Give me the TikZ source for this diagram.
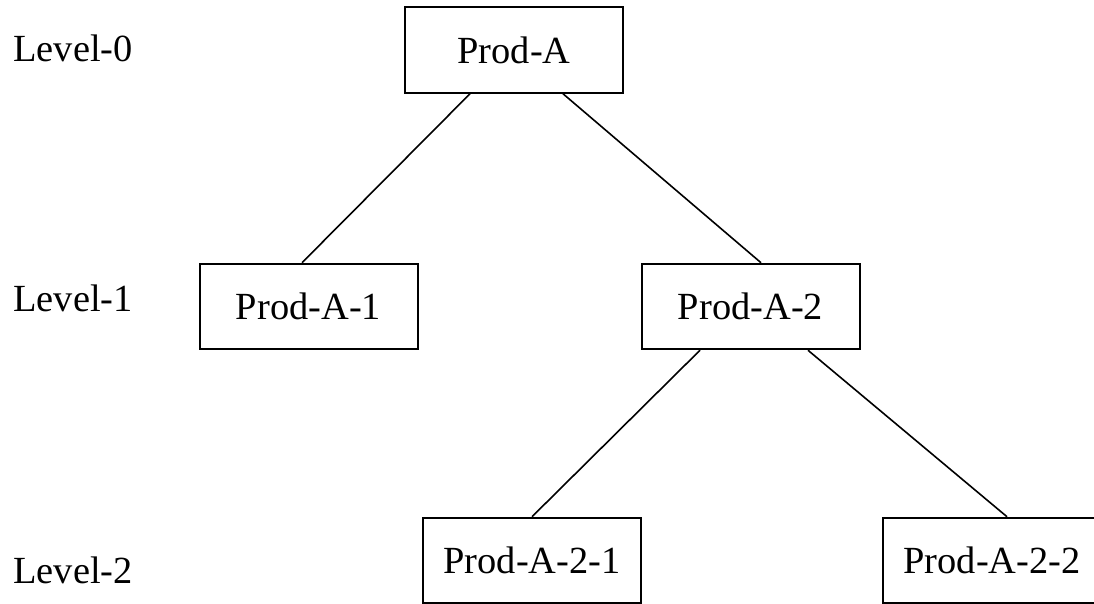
\documentclass[tikz,border=0pt]{standalone}
\usepackage{fontspec}
\setmainfont{Liberation Serif}
\begin{document}
\begin{tikzpicture}[x=0.5pt,y=-0.5pt,
  txt/.style={font=\fontsize{19.2}{23}\selectfont},
  box/.style={txt, draw, line width=1pt, inner sep=0pt, minimum width=109pt, minimum height=42.75pt},
  lvl/.style={txt, inner sep=0pt, anchor=base west},
  link/.style={line width=0.8pt}]
\useasboundingbox (0,0) rectangle (1094,604);
\node[box] (A) at (514,50) {Prod-A};
\node[box] (A1) at (308.5,306.5) {Prod-A-1};
\node[box] (A2) at (750.5,306.5) {Prod-A-2};
\node[box] (A21) at (532,560.5) {Prod-A-2-1};
\node[box] (A22) at (992,560.5) {Prod-A-2-2};
\node[lvl] (L0) at (13,62) {Level-0};
\node[lvl] (L1) at (13,312) {Level-1};
\node[lvl] (L2) at (13,583) {Level-2};
\draw[link] ([xshift=-22pt]A.south) -- ([xshift=-3.25pt]A1.north);
\draw[link] ([xshift=24.5pt]A.south) -- ([xshift=5.25pt]A2.north);
\draw[link] ([xshift=-25.25pt]A2.south) -- (A21.north);
\draw[link] ([xshift=28.75pt]A2.south) -- ([xshift=7.5pt]A22.north);
\end{tikzpicture}
\end{document}
